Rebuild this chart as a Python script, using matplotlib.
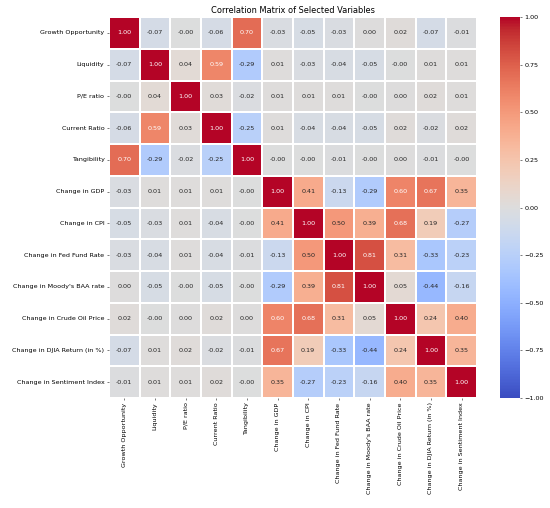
import numpy as np
import pandas as pd
import seaborn as sns
import matplotlib
matplotlib.use("Agg")
import matplotlib.pyplot as plt

variables = ['Growth Opportunity', 'Liquidity', 'P/E ratio', 'Current Ratio', 'Tangibility',
             'Change in GDP', 'Change in CPI', 'Change in Fed Fund Rate',
             "Change in Moody's BAA rate", 'Change in Crude Oil Price',
             'Change in DJIA Return (in %)', 'Change in Sentiment Index']

# -0.001 / 0.001 stand for the cells printed as -0.00 / 0.00
growth_opp = [1.00, -0.07, -0.001, -0.06, 0.70, -0.03, -0.05, -0.03, 0.001, 0.02, -0.07, -0.01]
liquidity = [-0.07, 1.00, 0.04, 0.59, -0.29, 0.01, -0.03, -0.04, -0.05, -0.001, 0.01, 0.01]
pe_ratio = [-0.001, 0.04, 1.00, 0.03, -0.02, 0.01, 0.01, 0.01, -0.001, 0.001, 0.02, 0.01]
current_ratio = [-0.06, 0.59, 0.03, 1.00, -0.25, 0.01, -0.04, -0.04, -0.05, 0.02, -0.02, 0.02]
tangibility = [0.70, -0.29, -0.02, -0.25, 1.00, -0.001, -0.001, -0.01, -0.001, 0.001, -0.01, -0.001]
gdp = [-0.03, 0.01, 0.01, 0.01, -0.001, 1.00, 0.41, -0.13, -0.29, 0.60, 0.67, 0.35]
cpi = [-0.05, -0.03, 0.01, -0.04, -0.001, 0.41, 1.00, 0.50, 0.39, 0.68, 0.19, -0.27]
fed_rate = [-0.03, -0.04, 0.01, -0.04, -0.01, -0.13, 0.50, 1.00, 0.81, 0.31, -0.33, -0.23]
baa_rate = [0.001, -0.05, -0.001, -0.05, -0.001, -0.29, 0.39, 0.81, 1.00, 0.05, -0.44, -0.16]
oil_price = [0.02, -0.001, 0.001, 0.02, 0.001, 0.60, 0.68, 0.31, 0.05, 1.00, 0.24, 0.40]
djia = [-0.07, 0.01, 0.02, -0.02, -0.01, 0.67, 0.19, -0.33, -0.44, 0.24, 1.00, 0.35]
sentiment = [-0.01, 0.01, 0.01, 0.02, -0.001, 0.35, -0.27, -0.23, -0.16, 0.40, 0.35, 1.00]

rows = [growth_opp, liquidity, pe_ratio, current_ratio, tangibility, gdp, cpi,
        fed_rate, baa_rate, oil_price, djia, sentiment]
corr = pd.DataFrame(np.array(rows), index=variables, columns=variables)

fig = plt.figure(figsize=(12, 11.084), dpi=550 / 12)
ax = fig.add_axes([0.198, 0.2165, 0.669, 0.75])
cax = fig.add_axes([0.909, 0.2165, 0.036, 0.75])

sns.heatmap(corr, annot=True, fmt='.2f', cmap='coolwarm', vmin=-1, vmax=1,
            linewidths=0.5, linecolor='white', ax=ax, cbar_ax=cax,
            annot_kws={'size': 10})
ax.set_title('Correlation Matrix of Selected Variables', fontsize=13)
ax.tick_params(labelsize=10)
cax.tick_params(labelsize=10)

plt.savefig('out.png', dpi=550 / 12)
